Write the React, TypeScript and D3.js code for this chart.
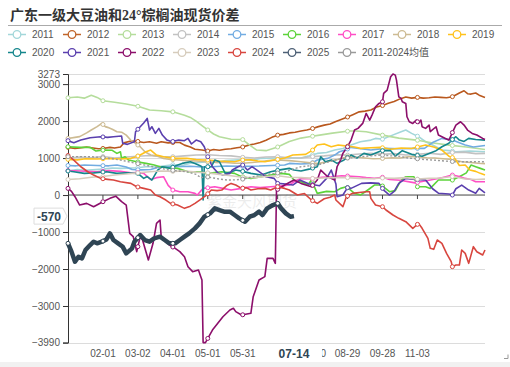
import React, { useEffect, useRef } from 'react';
import * as d3 from 'd3';

// chart size
const W = 510;
const H = 367;

// category axis: trading calendar 01-02 .. 12-31, national day week dropped
const categories = d3.timeDay
  .range(new Date(2024, 0, 2), new Date(2025, 0, 1))
  .filter(d => !(d.getMonth() === 9 && d.getDate() <= 6))
  .map(d3.timeFormat('%m-%d'));

const yTicks = [3273, 3000, 2000, 1000, 0, -1000, -2000, -3000, -3990];
const labelIdx = [30, 60, 90, 120, 150, 180, 210, 240, 270, 300];
const symbolIdx = [0, 30, 60, 90, 120, 150, 180, 210, 240, 270, 300, 330];
const pointerIdx = 194;
const pointerValue = -570;

// [category index, value]
const s2011 = [[0,650],[8,690],[15,670],[30,700],[38,730],[45,720],[60,740],[68,770],[75,760],[90,820],[98,800],[105,860],[120,900],[128,880],[135,930],[150,960],[158,940],[165,990],[180,1000],[190,1010],[200,1000],[207,1060],[214,1126],[222,1150],[229,1216],[236,1260],[243,1351],[251,1441],[260,1486],[264,1532],[270,1510],[277,1600],[286,1712],[290,1757],[295,1667],[301,1577],[307,1441],[313,1351],[321,1216],[327,1200],[333,1171],[345,1190],[358,1171]];
const s2012 = [[0,1290],[6,1260],[10,1270],[16,1300],[20,1280],[26,1250],[30,1260],[36,1290],[40,1270],[45,1300],[48,1410],[54,1460],[60,1450],[65,1420],[70,1440],[76,1400],[80,1440],[86,1410],[90,1420],[96,1420],[100,1350],[105,1300],[109,1240],[115,1220],[120,1190],[125,1230],[130,1210],[135,1240],[140,1250],[145,1280],[150,1300],[155,1350],[160,1380],[165,1420],[170,1480],[175,1560],[180,1620],[185,1640],[190,1680],[195,1700],[200,1730],[205,1760],[210,1800],[215,1850],[220,1890],[225,1920],[230,1990],[235,2050],[240,2110],[245,2180],[250,2250],[255,2270],[260,2300],[265,2380],[270,2420],[275,2480],[280,2530],[285,2600],[290,2650],[295,2620],[300,2640],[305,2620],[310,2630],[315,2650],[320,2640],[325,2630],[330,2660],[336,2760],[340,2820],[343,2740],[346,2730],[350,2760],[353,2700],[358,2640]];
const s2013 = [[0,2630],[8,2650],[14,2620],[20,2700],[25,2640],[30,2550],[40,2510],[50,2460],[60,2400],[70,2300],[80,2280],[90,2250],[100,2160],[105,2100],[110,2000],[115,1880],[120,1760],[125,1650],[130,1575],[140,1510],[150,1500],[156,1350],[162,1216],[170,1200],[180,1300],[190,1450],[200,1540],[207,1575],[216,1620],[227,1675],[241,1730],[247,1730],[256,1710],[270,1620],[284,1540],[299,1486],[312,1413],[327,1350],[342,1297],[358,1230]];
const s2014 = [[0,1000],[10,1030],[20,1010],[30,1040],[40,1000],[50,1030],[60,1050],[70,1070],[80,1040],[90,1036],[100,1060],[110,1081],[120,1090],[130,1070],[140,1060],[150,1020],[160,1000],[170,1030],[180,1036],[190,1010],[200,1000],[210,1040],[220,1060],[230,1090],[240,1080],[250,1110],[260,1126],[270,1100],[280,1120],[290,1081],[300,1100],[310,1130],[320,1100],[330,1150],[340,1160],[350,1120],[358,1126]];
const s2015 = [[0,800],[7,790],[14,811],[25,800],[35,790],[42,811],[50,760],[55,690],[63,680],[71,690],[79,766],[93,766],[105,780],[115,760],[123,766],[136,784],[150,775],[164,784],[175,800],[186,811],[190,856],[200,840],[209,856],[214,946],[223,992],[229,1081],[233,1171],[238,1216],[243,1289],[250,1260],[260,1216],[272,1262],[285,1250],[298,1262],[306,1262],[313,1420],[321,1532],[330,1486],[341,1351],[348,1300],[358,1340]];
const s2016 = [[0,1306],[10,1290],[19,1290],[24,1190],[31,1216],[38,1210],[42,1126],[45,1171],[46,992],[49,1036],[52,946],[59,901],[67,856],[74,811],[79,766],[86,740],[94,721],[103,631],[114,631],[120,586],[132,631],[143,586],[149,495],[157,450],[166,495],[174,540],[183,586],[190,560],[194,405],[200,360],[206,270],[209,405],[214,45],[222,100],[229,90],[234,180],[239,225],[246,45],[251,0],[258,150],[263,270],[269,270],[276,90],[281,120],[286,405],[290,495],[297,495],[300,225],[307,225],[311,180],[318,405],[330,405],[336,495],[342,600],[346,811],[350,766],[354,721],[358,676]];
const s2017 = [[0,660],[10,650],[25,631],[35,660],[45,640],[54,600],[60,610],[65,586],[71,420],[76,470],[82,495],[86,260],[90,135],[96,90],[103,90],[109,45],[111,0],[116,180],[121,200],[126,225],[133,180],[140,135],[149,180],[157,225],[165,200],[174,225],[182,240],[190,270],[195,380],[200,450],[210,440],[218,480],[226,495],[235,520],[243,510],[250,495],[256,470],[263,450],[270,480],[276,420],[285,400],[298,330],[310,400],[321,470],[330,540],[336,500],[341,450],[346,420],[350,360],[358,360]];
const s2018 = [[0,1530],[6,1560],[10,1580],[16,1680],[20,1760],[25,1850],[29,1937],[32,1850],[34,1830],[38,1780],[42,1712],[46,1700],[50,1620],[54,1480],[58,1400],[62,1306],[66,1171],[71,1081],[76,1060],[82,990],[88,960],[95,946],[102,930],[110,920],[120,900],[128,880],[135,880],[143,860],[150,860],[158,880],[165,900],[172,930],[180,950],[190,930],[200,900],[208,870],[215,850],[222,900],[230,950],[240,1036],[248,1020],[255,1000],[262,980],[270,990],[278,1010],[285,1000],[292,1036],[300,1036],[308,1010],[315,1000],[322,980],[330,960],[338,900],[346,880],[352,860],[358,850]];
const s2019 = [[0,965],[8,950],[15,980],[25,973],[35,990],[45,975],[54,992],[58,1030],[62,1081],[67,1171],[71,1216],[76,1081],[82,1036],[91,992],[102,992],[110,960],[116,946],[120,946],[130,920],[143,901],[149,946],[157,950],[163,920],[169,901],[177,946],[186,1000],[193,1081],[204,1100],[210,1216],[214,1351],[220,1378],[226,1306],[232,1351],[238,1330],[246,1300],[251,1262],[260,1280],[268,1289],[277,1240],[286,1270],[295,1260],[300,1300],[307,1351],[314,1300],[321,1216],[327,1050],[332,990],[336,800],[341,811],[345,676],[350,640],[354,586],[358,541]];
const s2020 = [[0,650],[5,631],[14,586],[22,600],[33,630],[42,586],[50,600],[60,586],[65,450],[68,500],[72,405],[77,676],[81,766],[85,740],[88,721],[93,800],[98,856],[105,900],[109,850],[113,800],[115,766],[116,-135],[117,766],[123,766],[126,946],[130,900],[135,586],[140,620],[144,676],[150,640],[157,586],[166,540],[174,631],[182,680],[190,721],[194,676],[200,650],[207,700],[214,766],[217,1036],[221,901],[226,950],[231,856],[237,950],[243,1081],[248,1000],[254,1126],[260,1080],[269,1200],[277,1200],[281,1050],[287,1200],[295,1100],[304,1050],[310,1126],[316,1200],[321,1306],[327,1400],[330,1500],[333,1577],[336,1486],[340,1450],[344,1532],[350,1500],[358,1486]];
const s2021 = [[0,1470],[5,1414],[11,1486],[19,1550],[28,1577],[34,1560],[39,1577],[46,1595],[47,1400],[51,1370],[55,1420],[57,1441],[58,1712],[62,1847],[65,1950],[68,2073],[70,1757],[72,1847],[75,1667],[78,1802],[81,1622],[85,1486],[89,1441],[95,1486],[100,1470],[103,1532],[106,1380],[110,1486],[114,1441],[117,1306],[120,1036],[124,766],[129,586],[133,540],[139,586],[141,676],[146,766],[150,811],[154,676],[158,766],[164,631],[170,495],[177,450],[180,315],[187,300],[193,270],[199,405],[207,300],[216,250],[222,450],[226,676],[230,300],[231,-45],[236,0],[240,200],[243,180],[252,315],[260,330],[267,315],[271,135],[276,0],[280,100],[284,315],[290,450],[298,420],[307,405],[313,170],[318,50],[327,30],[330,0],[333,170],[338,270],[344,135],[350,50],[353,180],[358,60]];
const s2022 = [[0,180],[3,100],[6,-45],[10,-270],[16,-225],[22,-315],[30,-180],[36,-90],[41,-30],[46,-180],[50,-270],[53,-1035],[56,-1125],[59,-1530],[62,-1125],[64,-1215],[69,-1757],[73,-1306],[76,-765],[79,-675],[80,-1125],[83,-1216],[87,-1350],[92,-1441],[96,-1530],[100,-1667],[103,-1937],[107,-2072],[112,-2027],[114,-2207],[115,-2300],[116,-3990],[118,-3990],[124,-3650],[133,-3290],[139,-3108],[142,-3063],[144,-3153],[149,-3243],[157,-3198],[159,-2748],[164,-2297],[169,-2207],[171,-1712],[176,-1712],[178,-1847],[179,135],[186,270],[194,405],[200,315],[209,225],[214,405],[217,675],[223,495],[229,405],[231,765],[234,946],[236,1127],[240,1306],[243,1486],[246,1757],[249,1802],[253,1937],[256,2208],[259,2027],[261,2162],[264,2387],[267,2478],[270,2522],[271,2748],[274,2838],[277,3198],[279,3273],[281,3243],[282,3108],[284,2657],[286,2613],[287,2522],[290,2478],[291,2117],[293,1982],[296,1937],[299,2027],[301,1937],[303,2027],[304,1847],[307,1802],[310,1892],[311,1712],[316,1847],[318,1622],[321,1577],[324,1531],[327,1486],[331,1757],[333,1892],[337,1982],[340,1892],[343,1757],[347,1667],[351,1622],[356,1531],[358,1500]];
const s2023 = [[0,420],[10,440],[20,480],[30,500],[40,540],[50,570],[60,600],[70,630],[80,650],[90,640],[100,650],[110,620],[120,600],[130,560],[140,520],[150,480],[160,470],[170,500],[180,520],[190,480],[200,470],[210,450],[220,460],[230,470],[240,470],[250,450],[260,440],[270,460],[280,450],[290,470],[300,430],[310,450],[320,460],[330,500],[340,440],[350,420],[358,430]];
const s2024 = [[0,1070],[5,946],[11,765],[17,630],[22,540],[28,450],[34,424],[39,405],[45,360],[54,315],[59,225],[65,180],[71,135],[75,0],[79,-45],[84,-135],[88,-225],[94,-270],[100,-360],[105,-300],[109,-225],[113,-135],[119,0],[123,135],[128,120],[132,135],[136,250],[140,315],[144,270],[149,180],[153,200],[157,135],[163,170],[169,180],[174,135],[180,225],[186,180],[190,135],[197,0],[203,40],[209,-135],[214,-225],[220,-100],[225,-60],[229,0],[230,-135],[236,-315],[239,-45],[244,45],[250,70],[256,90],[259,90],[260,-90],[264,-270],[270,-315],[273,-405],[279,-540],[284,-630],[290,-720],[296,-900],[301,-766],[304,-900],[309,-1170],[311,-1441],[314,-1468],[317,-1216],[321,-1306],[325,-1577],[329,-1802],[330,-1937],[333,-1892],[336,-1892],[338,-1486],[341,-1577],[344,-1847],[348,-1396],[351,-1532],[356,-1622],[358,-1486]];
const s2025 = [[0,-1306],[3,-1530],[6,-1802],[9,-1667],[12,-1712],[15,-1486],[19,-1351],[22,-1261],[25,-1306],[29,-1261],[33,-1200],[36,-1036],[39,-1216],[43,-1306],[47,-1400],[50,-1577],[55,-1441],[57,-1261],[62,-1081],[66,-1216],[70,-1261],[74,-1171],[79,-1126],[83,-1216],[87,-1306],[92,-1306],[96,-1216],[100,-1126],[104,-1036],[109,-901],[113,-766],[117,-586],[122,-495],[126,-360],[130,-405],[134,-450],[139,-450],[143,-540],[147,-630],[152,-721],[156,-586],[160,-540],[164,-450],[167,-540],[171,-360],[176,-270],[180,-225],[183,-360],[187,-495],[191,-586],[194,-570]];
const sMean = [[0,1036],[10,1040],[20,1036],[30,1010],[38,980],[45,946],[52,900],[59,856],[66,810],[73,766],[80,720],[87,676],[95,650],[102,631],[110,560],[114,470],[119,495],[125,460],[130,430],[137,405],[143,410],[149,424],[157,480],[166,540],[176,580],[186,620],[193,700],[200,766],[207,790],[214,811],[222,880],[230,950],[237,992],[244,1010],[251,1036],[260,1060],[269,1081],[277,1060],[284,1050],[292,1000],[300,980],[306,960],[313,946],[320,930],[327,910],[333,901],[345,900],[358,901]];

const names = ['2011','2012','2013','2014','2015','2016','2017','2018','2019','2020','2021','2022','2023','2024','2025','2011-2024均值'];
const colors = ['#a3d7da','#b9581e','#b5dd9c','#c2c2c2','#72ace2','#5cd33a','#ff4ec6','#cdbb93','#ffc21c','#15868c','#5a3fae','#8c0f6b','#d6ccbc','#d8463f','#2f4554','#9a9a9a'];
const legendColors = ['#a3d7da','#c0652a','#b5dd9c','#c2c2c2','#72ace2','#5cd33a','#ff4ec6','#cdbb93','#ffc21c','#15868c','#5a3fae','#8c0f6b','#d6ccbc','#d8463f','#4d6076','#9a9a9a'];
const allData = [s2011,s2012,s2013,s2014,s2015,s2016,s2017,s2018,s2019,s2020,s2021,s2022,s2023,s2024,s2025,sMean];

const sans = "'Liberation Sans','Noto Sans CJK SC',sans-serif";

const App = () => {
  const chartRef = useRef<SVGSVGElement>(null);

  useEffect(() => {
    const svg = d3.select(chartRef.current);
    svg.selectAll('*').remove();

    const x = d3.scalePoint<string>().domain(categories).range([68, 485]);
    const xi = (i: number) => x(categories[i]) as number;
    const y = d3.scaleLinear().domain([-3990, 3273]).range([342.6, 74]);

    // title
    svg.append('text')
      .attr('x', 10).attr('y', 20)
      .attr('font-family', "'Liberation Serif','Noto Sans CJK SC',serif")
      .attr('font-weight', 'bold').attr('font-size', 14).attr('fill', '#333')
      .text('广东一级大豆油和24°棕榈油现货价差');
    svg.append('line')
      .attr('x1', 8).attr('x2', 502).attr('y1', 25.5).attr('y2', 25.5)
      .attr('stroke', '#aaa');

    // legend
    const legend = svg.append('g');
    names.forEach((n, i) => {
      const col = i < 9 ? i : i - 9;
      const ly = i < 9 ? 34.5 : 52.5;
      const x0 = 8 + col * 55;
      legend.append('line')
        .attr('x1', x0).attr('x2', x0 + 18).attr('y1', ly).attr('y2', ly)
        .attr('stroke', legendColors[i]).attr('stroke-width', 1.5);
      legend.append('circle')
        .attr('cx', x0 + 9).attr('cy', ly).attr('r', 3.8)
        .attr('fill', '#fff').attr('stroke', legendColors[i]).attr('stroke-width', 1.3);
      legend.append('text')
        .attr('x', x0 + 24).attr('y', ly + 3.6)
        .attr('font-family', sans).attr('font-size', 10).attr('fill', '#555')
        .text(n);
    });

    // grid + y axis
    svg.append('g').selectAll('line')
      .data(yTicks.filter(t => t !== 0))
      .enter().append('line')
      .attr('x1', 68).attr('x2', 485)
      .attr('y1', d => Math.round(y(d)) + 0.5).attr('y2', d => Math.round(y(d)) + 0.5)
      .attr('stroke', '#dcdcdc');

    svg.append('g')
      .attr('transform', 'translate(68,0)')
      .call(d3.axisLeft(y).tickValues(yTicks).tickFormat(d3.format('d')).tickSize(5).tickPadding(3))
      .call(g => g.select('.domain').attr('stroke', '#333'))
      .call(g => g.selectAll('.tick line').attr('stroke', '#333'))
      .call(g => g.selectAll('.tick text').attr('font-family', sans).attr('font-size', 10).attr('fill', '#555'));

    // watermark
    svg.append('text')
      .attr('x', 207).attr('y', 207)
      .attr('font-family', "'Noto Sans CJK SC',sans-serif").attr('font-size', 15)
      .attr('fill', '#000').attr('opacity', 0.07)
      .text('紫金天风期货');

    // x axis on the zero line
    const xAxis = svg.append('g').attr('transform', `translate(0,${y(0)})`);
    xAxis.append('line').attr('x1', 68).attr('x2', 485).attr('stroke', '#444');
    xAxis.selectAll('.tk').data(labelIdx).enter().append('line')
      .attr('x1', d => xi(d)).attr('x2', d => xi(d)).attr('y1', 0).attr('y2', 4)
      .attr('stroke', '#444');

    // labels hidden behind the pointer box are left out; only the visible tail of 07-30 shows
    const px = xi(pointerIdx);
    const shown = labelIdx.filter(d => Math.abs(xi(d) - px) > 28);
    svg.append('g').selectAll('text').data(shown).enter().append('text')
      .attr('x', d => xi(d)).attr('y', 357)
      .attr('text-anchor', 'middle')
      .attr('font-family', sans).attr('font-size', 10).attr('fill', '#555')
      .text(d => categories[d]);
    const hidden = labelIdx.filter(d => xi(d) > px && Math.abs(xi(d) - px) <= 28);
    svg.append('g').selectAll('text').data(hidden).enter().append('text')
      .attr('x', d => xi(d) + 13.5).attr('y', 357)
      .attr('text-anchor', 'end')
      .attr('font-family', sans).attr('font-size', 10).attr('fill', '#555')
      .text(d => categories[d].slice(-1));

    // series
    const line = d3.line<number[]>().x(d => xi(d[0])).y(d => y(d[1]));
    const plot = svg.append('g');
    allData.forEach((data, i) => {
      const isMean = i === allData.length - 1;
      const is2025 = names[i] === '2025';
      plot.append('path')
        .attr('d', line(data))
        .attr('fill', 'none')
        .attr('stroke', colors[i])
        .attr('stroke-width', is2025 ? 4.5 : isMean ? 1.4 : 1.6)
        .attr('stroke-dasharray', isMean ? '2,2' : null)
        .attr('stroke-linejoin', 'round');
    });
    allData.forEach((data, i) => {
      const along = d3.scaleLinear().domain(data.map(d => d[0])).range(data.map(d => d[1]));
      const last = data[data.length - 1][0];
      plot.append('g').selectAll('circle')
        .data(symbolIdx.filter(k => k <= last))
        .enter().append('circle')
        .attr('cx', k => xi(k)).attr('cy', k => y(along(k)))
        .attr('r', 2)
        .attr('fill', '#fff').attr('stroke', colors[i]).attr('stroke-width', 1);
    });

    // axis pointer labels
    const py = y(pointerValue);
    const yl = svg.append('g');
    yl.append('path')
      .attr('d', `M34,${py - 8} h29 l4,${8} l-4,${8} h-29 z`)
      .attr('fill', '#fff').attr('stroke', '#ddd');
    yl.append('text')
      .attr('x', 49).attr('y', py + 4.5).attr('text-anchor', 'middle')
      .attr('font-family', sans).attr('font-weight', 'bold').attr('font-size', 12)
      .attr('fill', '#2f4554').text(pointerValue);

    const xl = svg.append('g');
    xl.append('rect')
      .attr('x', px - 28).attr('y', 345).attr('width', 56).attr('height', 17)
      .attr('fill', '#fff');
    xl.append('text')
      .attr('x', px).attr('y', 358).attr('text-anchor', 'middle')
      .attr('font-family', sans).attr('font-weight', 'bold').attr('font-size', 12)
      .attr('fill', '#2f4554').text(categories[pointerIdx]);

    // bottom strip
    svg.append('rect').attr('x', 0).attr('y', 362).attr('width', W).attr('height', 5).attr('fill', '#f1f1f1');
    svg.append('path').attr('d', 'M504,358.5 h4 v-4').attr('fill', 'none').attr('stroke', '#999');
  }, []);

  return (
    <>
      <style>{'body{margin:0}'}</style>
      <svg ref={chartRef} width={W} height={H} style={{ display: 'block', background: '#fff' }} />
    </>
  );
};

export default App;
